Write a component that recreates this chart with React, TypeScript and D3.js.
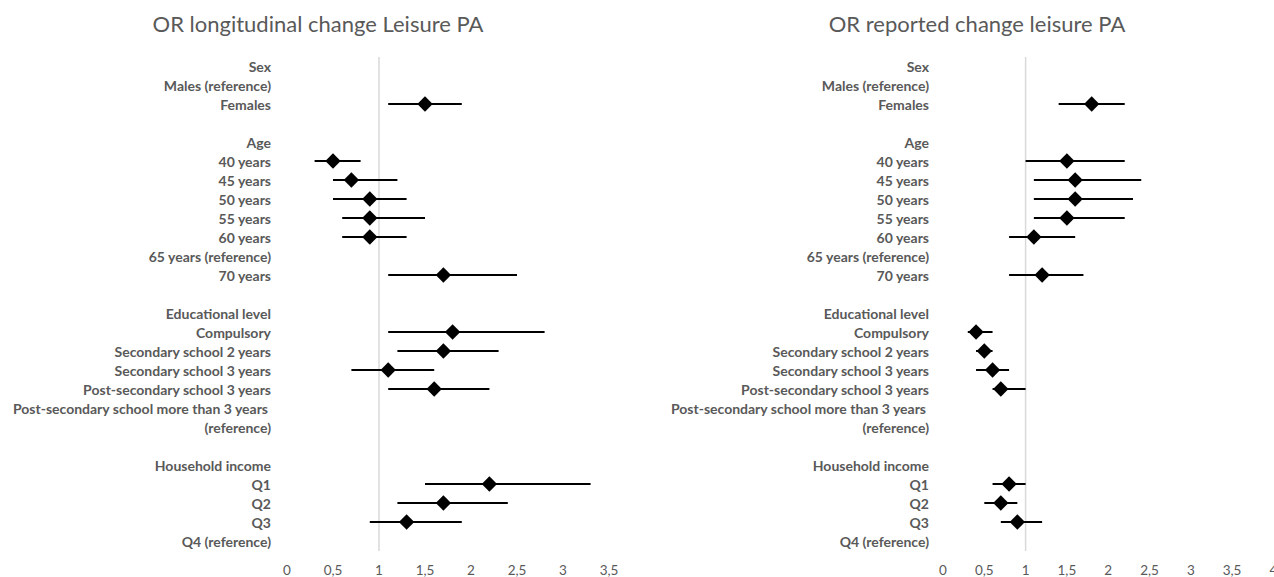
import React from "react";
import * as d3 from "d3";

const rowLabels: string[] = [
  "Sex", "Males (reference)", "Females", "",
  "Age", "40 years", "45 years", "50 years", "55 years", "60 years", "65 years (reference)", "70 years", "",
  "Educational level", "Compulsory", "Secondary school 2 years", "Secondary school 3 years",
  "Post-secondary school 3 years", "Post-secondary school more than 3 years ", "(reference)", "",
  "Household income", "Q1", "Q2", "Q3", "Q4 (reference)",
];

// Left panel: OR longitudinal change Leisure PA
const leftOR: (number | null)[] = [
  null, null, 1.5, null,
  null, 0.5, 0.7, 0.9, 0.9, 0.9, null, 1.7, null,
  null, 1.8, 1.7, 1.1, 1.6, null, null, null,
  null, 2.2, 1.7, 1.3, null,
];
const leftLow: (number | null)[] = [
  null, null, 1.1, null,
  null, 0.3, 0.5, 0.5, 0.6, 0.6, null, 1.1, null,
  null, 1.1, 1.2, 0.7, 1.1, null, null, null,
  null, 1.5, 1.2, 0.9, null,
];
const leftHigh: (number | null)[] = [
  null, null, 1.9, null,
  null, 0.8, 1.2, 1.3, 1.5, 1.3, null, 2.5, null,
  null, 2.8, 2.3, 1.6, 2.2, null, null, null,
  null, 3.3, 2.4, 1.9, null,
];

// Right panel: OR reported change leisure PA
const rightOR: (number | null)[] = [
  null, null, 1.8, null,
  null, 1.5, 1.6, 1.6, 1.5, 1.1, null, 1.2, null,
  null, 0.4, 0.5, 0.6, 0.7, null, null, null,
  null, 0.8, 0.7, 0.9, null,
];
const rightLow: (number | null)[] = [
  null, null, 1.4, null,
  null, 1.0, 1.1, 1.1, 1.1, 0.8, null, 0.8, null,
  null, 0.3, 0.4, 0.4, 0.6, null, null, null,
  null, 0.6, 0.5, 0.7, null,
];
const rightHigh: (number | null)[] = [
  null, null, 2.2, null,
  null, 2.2, 2.4, 2.3, 2.2, 1.6, null, 1.7, null,
  null, 0.6, 0.6, 0.8, 1.0, null, null, null,
  null, 1.0, 0.9, 1.2, null,
];

const leftTicks = [0, 0.5, 1, 1.5, 2, 2.5, 3, 3.5];
const rightTicks = [0, 0.5, 1, 1.5, 2, 2.5, 3, 3.5, 4];

const fmt = (v: number) => String(v).replace(".", ",");

const FONT = "Lato, 'Open Sans', sans-serif";
const GRAY = "#595959";

type PanelProps = {
  title: string;
  titleX: number;
  labelX: number;
  x0: number;
  pxPerUnit: number;
  ticks: number[];
  or: (number | null)[];
  lo: (number | null)[];
  hi: (number | null)[];
};

function Panel({ title, titleX, labelX, x0, pxPerUnit, ticks, or, lo, hi }: PanelProps) {
  const maxT = ticks[ticks.length - 1];
  const x = d3.scaleLinear().domain([0, maxT]).range([x0, x0 + pxPerUnit * maxT]);
  const y = d3
    .scalePoint<number>()
    .domain(rowLabels.map((_, i) => i))
    .range([66, 541]);
  const diamond = d3.symbol().type(d3.symbolDiamond2).size(150)();
  return (
    <g>
      <text x={titleX} y={23} textAnchor="middle" dominantBaseline="central" fontSize={22} fill={GRAY} fontFamily={FONT}>
        {title}
      </text>
      <line x1={x(1)} x2={x(1)} y1={57} y2={551} stroke="#d9d9d9" strokeWidth={1.5} />
      {rowLabels.map((lab, i) => (
        <text
          key={i}
          x={labelX - (lab.endsWith(" ") ? 3 : 0)}
          y={y(i)!}
          textAnchor="end"
          dominantBaseline="central"
          fontSize={14}
          fontWeight="bold"
          fill={GRAY}
          fontFamily={FONT}
        >
          {lab.trim()}
        </text>
      ))}
      {ticks.map((t) => (
        <text key={t} x={x(t)} y={570} textAnchor="middle" dominantBaseline="central" fontSize={13.5} fill={GRAY} fontFamily={FONT}>
          {fmt(t)}
        </text>
      ))}
      {or.map((v, i) =>
        v == null ? null : (
          <g key={i}>
            <line x1={x(lo[i]!)} x2={x(hi[i]!)} y1={y(i)!} y2={y(i)!} stroke="#000" strokeWidth={2} />
            <path d={diamond!} transform={`translate(${x(v)},${y(i)})`} fill="#000" />
          </g>
        )
      )}
    </g>
  );
}

export default function App() {
  return (
    <svg width={1274} height={577} style={{ position: "absolute", left: 0, top: 0, background: "#fff" }}>
      <rect width={1274} height={577} fill="#fff" />
      <Panel
        title="OR longitudinal change Leisure PA"
        titleX={318}
        labelX={271}
        x0={287}
        pxPerUnit={92}
        ticks={leftTicks}
        or={leftOR}
        lo={leftLow}
        hi={leftHigh}
      />
      <Panel
        title="OR reported change leisure PA"
        titleX={977}
        labelX={929}
        x0={943}
        pxPerUnit={82.6}
        ticks={rightTicks}
        or={rightOR}
        lo={rightLow}
        hi={rightHigh}
      />
    </svg>
  );
}
